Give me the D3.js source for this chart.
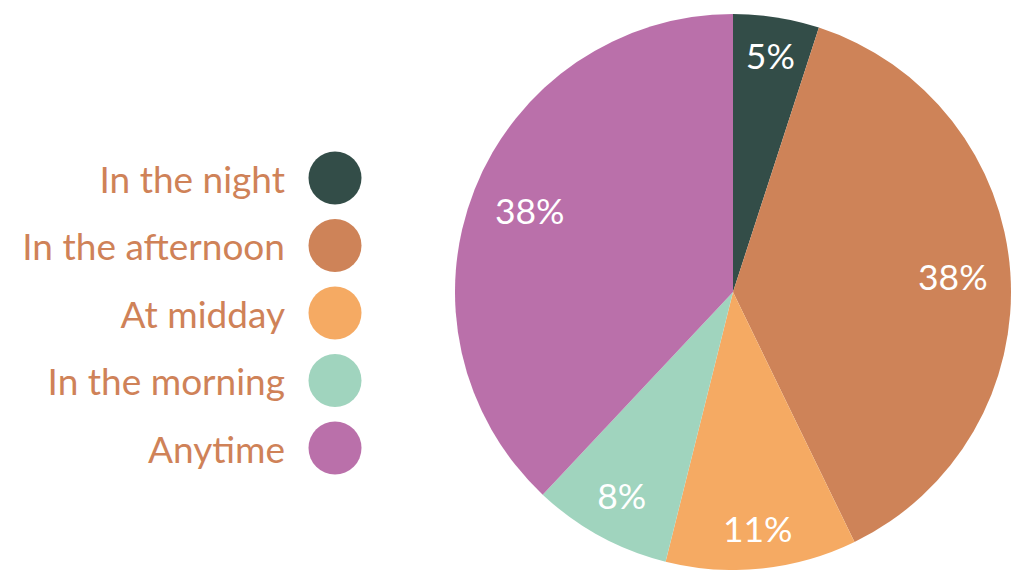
<!DOCTYPE html>
<html>
<head>
<meta charset="utf-8">
<script src="https://cdn.jsdelivr.net/npm/d3@7"></script>
<style>
  html, body { margin: 0; padding: 0; background: #fff; }
  svg { display: block; font-family: Lato, "Open Sans", sans-serif; }
</style>
</head>
<body>
<svg id="chart" width="1012" height="570"></svg>
<script>
const categories = ["In the night", "In the afternoon", "At midday", "In the morning", "Anytime"];
const values = [5.0, 37.8, 11.1, 8.1, 38.0];
const labels = ["5%", "38%", "11%", "8%", "38%"];
const colors = ["#334d48", "#ce8358", "#f5aa63", "#a0d4be", "#ba70aa"];

const svg = d3.select("#chart");
const cx = 733, cy = 292, R = 278;

const color = d3.scaleOrdinal().domain(categories).range(colors);
const data = categories.map((c, i) => ({ cat: c, value: values[i], label: labels[i] }));

const pie = d3.pie().value(d => d.value).sort(null);
const arc = d3.arc().innerRadius(0).outerRadius(R);
const arcs = pie(data);

const g = svg.append("g").attr("transform", `translate(${cx},${cy})`);
g.selectAll("path.slice").data(arcs).join("path")
  .attr("class", "slice")
  .attr("d", arc)
  .attr("fill", d => color(d.data.cat));

const fontSize = 35.5;
const labelSel = g.selectAll("text.lbl").data(arcs).join("text")
  .attr("class", "lbl")
  .attr("text-anchor", "middle")
  .attr("dy", "0.36em")
  .attr("fill", "#ffffff")
  .style("font-size", fontSize + "px")
  .text(d => d.data.label);

// place labels so their box sits a fixed distance inside the rim
const edge = R - 22;
labelSel.each(function(d) {
  const bb = this.getBBox();
  const hw = bb.width / 2, hh = fontSize * 0.38;
  const a = (d.startAngle + d.endAngle) / 2;
  const ux = Math.sin(a), uy = -Math.cos(a);
  const dist = edge - (Math.abs(ux) * hw + Math.abs(uy) * hh);
  d3.select(this).attr("x", ux * dist).attr("y", uy * dist);
});

// legend
const legendY = d3.scalePoint().domain(categories).range([178, 448]);
const lg = svg.append("g");
const items = lg.selectAll("g.item").data(categories).join("g")
  .attr("class", "item")
  .attr("transform", d => `translate(0,${legendY(d)})`);
items.append("circle")
  .attr("cx", 335).attr("cy", 0).attr("r", 26.5)
  .attr("fill", d => color(d));
items.append("text")
  .attr("x", 285).attr("y", 0).attr("dy", "0.4em")
  .attr("text-anchor", "end")
  .attr("fill", "#cf8258")
  .style("font-size", "37px")
  .text(d => d);
</script>
</body>
</html>
